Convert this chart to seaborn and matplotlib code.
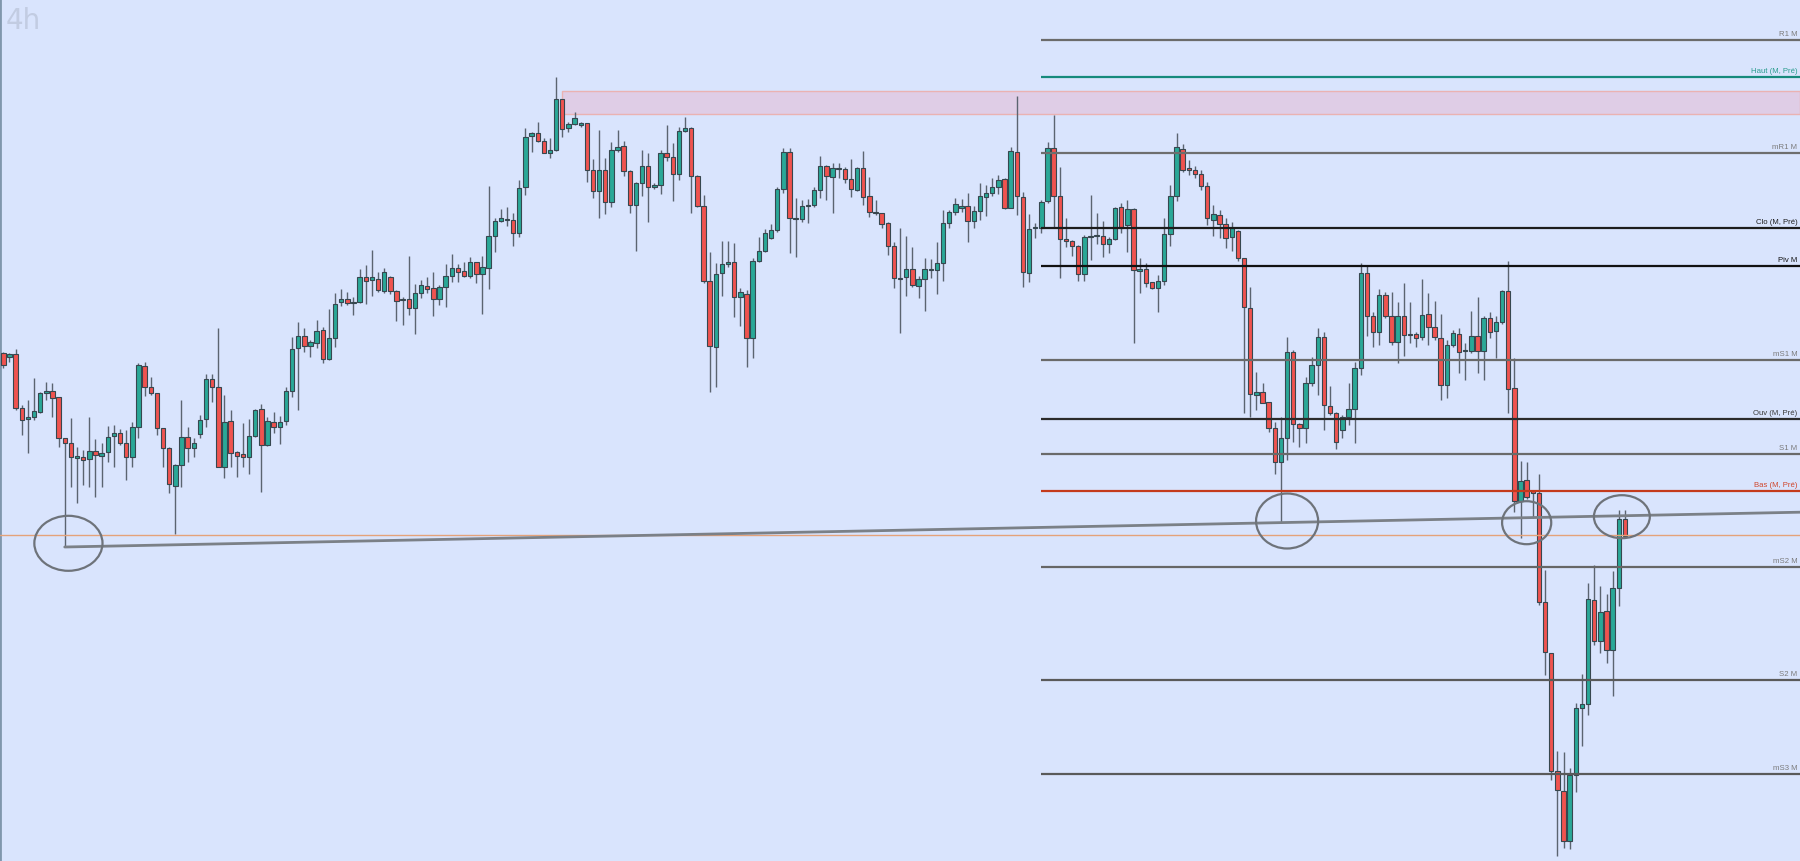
import numpy as np
import pandas as pd
import matplotlib
matplotlib.use("Agg")
import matplotlib.pyplot as plt
from matplotlib.patches import Ellipse, Rectangle
from matplotlib.transforms import blended_transform_factory
import seaborn as sns


# 4h candles, price in chart points
opens = [647, 643, 646, 592, 581, 583, 588, 607, 609, 603,
         562, 557, 542, 543, 541, 549, 544, 548, 564, 567,
         557, 543, 573, 634, 613, 607, 572, 552, 514, 535,
         563, 552, 566, 581, 621, 613, 533, 579, 548, 546,
         543, 564, 591, 555, 578, 573, 579, 609, 652, 664,
         654, 657, 670, 641, 662, 698, 701, 697, 698, 723,
         720, 721, 709, 723, 709, 701, 701, 692, 707, 714,
         712, 701, 713, 724, 732, 729, 724, 738, 726, 732,
         764, 779, 781, 780, 767, 813, 864, 867, 859, 847,
         850, 901, 872, 876, 875, 877, 830, 809, 830, 798,
         850, 854, 829, 795, 817, 834, 813, 815, 847, 843,
         826, 869, 872, 824, 794, 719, 653, 727, 736, 738,
         703, 706, 662, 739, 749, 762, 770, 811, 848, 782,
         781, 795, 795, 810, 834, 823, 832, 831, 821, 810,
         832, 804, 788, 787, 777, 754, 722, 723, 731, 714,
         721, 731, 730, 737, 777, 788, 792, 794, 779, 789,
         803, 807, 813, 821, 792, 848, 803, 727, 772, 772,
         799, 852, 804, 761, 759, 754, 726, 764, 764, 764,
         756, 761, 793, 775, 791, 729, 731, 718, 712, 719,
         766, 804, 851, 832, 830, 826, 814, 780, 785, 776,
         763, 769, 742, 692, 605, 608, 598, 572, 538, 562,
         648, 576, 572, 617, 635, 663, 594, 587, 570, 583,
         591, 632, 727, 684, 668, 705, 684, 658, 684, 666,
         666, 663, 686, 673, 662, 615, 655, 666, 649, 649,
         664, 649, 682, 669, 678, 709, 612, 499, 520, 509,
         507, 398, 347, 229, 209, 159, 225, 292, 296, 400,
         359, 389, 350, 412, 481]
highs = [648, 647, 651, 595, 600, 622, 608, 618, 617, 603,
         562, 582, 553, 550, 583, 561, 557, 574, 575, 571,
         570, 578, 637, 638, 623, 607, 572, 553, 536, 600,
         573, 562, 585, 626, 626, 672, 605, 590, 549, 577,
         581, 591, 596, 583, 588, 584, 613, 663, 678, 672,
         660, 680, 673, 691, 707, 711, 708, 703, 731, 735,
         750, 728, 732, 724, 710, 703, 744, 716, 720, 723,
         728, 715, 736, 746, 736, 738, 743, 738, 744, 814,
         782, 791, 793, 787, 820, 872, 868, 878, 862, 862,
         923, 901, 878, 888, 878, 877, 841, 870, 842, 858,
         870, 859, 830, 818, 850, 847, 817, 850, 875, 857,
         873, 883, 873, 825, 805, 748, 737, 759, 759, 757,
         712, 710, 742, 763, 771, 776, 813, 852, 852, 802,
         800, 801, 813, 844, 835, 837, 837, 833, 841, 833,
         849, 823, 800, 787, 778, 758, 772, 764, 753, 724,
         742, 741, 758, 790, 790, 802, 801, 807, 794, 817,
         815, 822, 825, 822, 853, 904, 808, 786, 777, 800,
         858, 885, 833, 782, 760, 755, 765, 805, 787, 779,
         763, 793, 797, 800, 792, 742, 737, 718, 725, 782,
         815, 867, 856, 840, 834, 830, 818, 795, 790, 782,
         778, 770, 742, 713, 628, 617, 598, 578, 583, 663,
         650, 577, 623, 643, 672, 668, 614, 588, 585, 617,
         638, 737, 735, 688, 711, 708, 708, 698, 717, 698,
         668, 721, 707, 699, 686, 660, 670, 672, 657, 689,
         703, 684, 688, 684, 710, 739, 642, 539, 538, 510,
         526, 430, 347, 249, 248, 232, 297, 326, 417, 435,
         414, 406, 429, 490, 490]
lows = [632, 638, 590, 565, 547, 580, 587, 600, 583, 553,
        453, 513, 497, 515, 513, 503, 513, 538, 533, 555,
        520, 533, 562, 604, 605, 565, 533, 507, 466, 513,
        538, 543, 562, 573, 598, 533, 522, 533, 523, 533,
        526, 563, 508, 554, 567, 556, 575, 603, 590, 648,
        643, 652, 637, 640, 653, 694, 695, 685, 697, 696,
        704, 708, 707, 706, 679, 675, 685, 666, 702, 707,
        684, 695, 693, 718, 718, 723, 722, 717, 686, 711,
        748, 778, 774, 754, 763, 805, 848, 858, 847, 842,
        849, 863, 868, 875, 873, 818, 802, 782, 786, 793,
        848, 824, 787, 749, 804, 778, 811, 806, 839, 799,
        820, 868, 787, 793, 717, 608, 613, 704, 733, 683,
        674, 633, 642, 738, 748, 761, 768, 807, 747, 743,
        778, 777, 793, 802, 800, 787, 822, 817, 803, 809,
        795, 783, 785, 772, 745, 712, 667, 704, 713, 702,
        689, 722, 706, 719, 772, 785, 788, 758, 772, 780,
        784, 804, 806, 791, 792, 785, 713, 718, 762, 767,
        797, 773, 722, 753, 744, 719, 719, 740, 756, 743,
        747, 760, 767, 748, 657, 707, 713, 711, 688, 715,
        754, 799, 828, 825, 822, 810, 775, 764, 762, 752,
        749, 739, 587, 583, 590, 597, 568, 526, 477, 540,
        558, 553, 557, 614, 605, 570, 585, 551, 562, 575,
        557, 625, 664, 653, 655, 682, 655, 637, 644, 657,
        653, 660, 655, 660, 600, 602, 653, 627, 620, 647,
        627, 620, 662, 642, 676, 587, 488, 462, 501, 482,
        395, 325, 220, 144, 152, 151, 208, 254, 285, 355,
        347, 337, 304, 394, 463]
closes = [635, 646, 592, 580, 583, 589, 607, 609, 602, 562,
          557, 543, 544, 540, 549, 545, 547, 563, 567, 557,
          543, 573, 635, 613, 607, 572, 552, 516, 535, 563,
          552, 557, 580, 621, 613, 533, 578, 547, 544, 543,
          564, 590, 555, 579, 573, 578, 609, 651, 664, 654,
          658, 669, 641, 662, 696, 701, 697, 698, 723, 719,
          723, 710, 728, 709, 699, 700, 692, 707, 715, 711,
          701, 713, 724, 732, 728, 724, 738, 726, 733, 764,
          779, 782, 780, 767, 812, 863, 867, 859, 847, 850,
          901, 871, 876, 882, 877, 830, 809, 830, 798, 850,
          853, 829, 795, 817, 834, 813, 815, 847, 843, 826,
          869, 872, 824, 794, 719, 654, 726, 736, 738, 703,
          708, 662, 739, 749, 767, 770, 811, 848, 782, 781,
          794, 794, 810, 834, 824, 832, 831, 821, 811, 832,
          803, 788, 787, 776, 754, 722, 721, 731, 715, 721,
          731, 730, 737, 777, 788, 796, 794, 779, 789, 804,
          807, 813, 820, 792, 849, 804, 728, 771, 772, 798,
          852, 804, 761, 759, 754, 726, 763, 763, 765, 756,
          761, 792, 772, 791, 730, 731, 717, 712, 719, 766,
          804, 853, 830, 830, 826, 814, 782, 786, 776, 762,
          772, 742, 693, 606, 608, 597, 572, 538, 562, 648,
          576, 572, 617, 635, 663, 595, 587, 558, 583, 591,
          632, 727, 684, 668, 705, 684, 658, 684, 665, 665,
          662, 685, 673, 663, 615, 655, 667, 648, 649, 664,
          649, 682, 668, 678, 709, 611, 499, 519, 503, 507,
          398, 348, 229, 210, 159, 225, 292, 296, 401, 359,
          388, 350, 412, 481, 464]

# Monthly pivot levels (right side)
level_names = ["R1 M", "Haut (M, Pré)", "mR1 M", "Clo (M, Pré)", "Piv M", "mS1 M",
               "Ouv (M, Pré)", "S1 M", "Bas (M, Pré)", "mS2 M", "S2 M", "mS3 M"]
level_values = [960, 923, 847, 772, 734, 640, 581, 546, 509, 433, 320, 226]
level_colors = ["#6b6b6b", "#168a7c", "#6e6e6e", "#1c1c1c", "#111111", "#6a6a6a",
                "#2b2b2b", "#6a6a6a", "#c43a1c", "#666666", "#5a5a5a", "#5a5a5a"]
label_colors = ["#7a7a7a", "#2a9d8f", "#7a7a7a", "#1e1e1e", "#111111", "#7a7a7a",
                "#3a3a3a", "#7a7a7a", "#d0452a", "#7a7a7a", "#7a7a7a", "#7a7a7a"]
levels_start = 169

# supply zone, trendline, orange level, circled touches
zone_start, zone_low, zone_high = 91, 886, 909
trend_x = [10, 292.5]
trend_y = [453, 487.8]
orange_level = 465
circle_x = [10.6, 209.0, 248.0, 263.5]
circle_y = [456.7, 479.0, 477.3, 483.3]
circle_w = [11.1, 10.1, 8.0, 9.1]
circle_h = [55, 55, 43, 43]

df = pd.DataFrame({"open": opens, "high": highs, "low": lows, "close": closes})
df["up"] = df["close"] >= df["open"]
df["doji"] = (df["close"] - df["open"]).abs() < 1
df["bottom"] = df[["open", "close"]].min(axis=1)
df["height"] = (df["close"] - df["open"]).abs().clip(lower=1.5)

sns.set_theme(style="white")
bg = "#d9e4fd"
fig = plt.figure(figsize=(18, 8.61), dpi=100, facecolor=bg)
ax = fig.add_axes([0, 0, 1, 1], facecolor=bg)

x_max = 292.5
ax.set_xlim(-0.54, x_max)
ax.set_ylim(139, 1000)

# zone behind candles
ax.add_patch(Rectangle((zone_start, zone_low), x_max - zone_start, zone_high - zone_low,
                       facecolor="#dfcde6", edgecolor="#eab2b2", linewidth=1, zorder=1))

# candles
ax.vlines(df.index, df["low"], df["high"], color="#5b6470", linewidth=1, zorder=2)
body_colors = np.where(df["doji"], "#222222", np.where(df["up"], "#2aa897", "#f0534f"))
ax.bar(df.index, df["height"], bottom=df["bottom"], width=0.72, color=body_colors,
       edgecolor="#37474f", linewidth=0.8, zorder=3)

# pivot lines and labels
trans = blended_transform_factory(ax.transAxes, ax.transData)
for name, val, col, tcol in zip(level_names, level_values, level_colors, label_colors):
    ax.hlines(val, levels_start, x_max, color=col, linewidth=1.6, zorder=4)
    ax.text(0.9985, val + 1.8, name, transform=trans, ha="right", va="bottom",
            fontsize=5.6, color=tcol, family=["Liberation Sans", "DejaVu Sans"], zorder=6)

ax.axhline(orange_level, color="#e4a27a", linewidth=1, zorder=4)
ax.plot(trend_x, trend_y, color="#7b8087", linewidth=2, zorder=5)
for cx, cy, w, h in zip(circle_x, circle_y, circle_w, circle_h):
    ax.add_patch(Ellipse((cx, cy), w, h, fill=False, edgecolor="#6e737a",
                         linewidth=1.6, zorder=5))

ax.text(0.003, 0.992, "4h", transform=ax.transAxes, ha="left", va="top",
        fontsize=20, color="#c2cce2")

ax.set_xticks([])
ax.set_yticks([])
for side in ["top", "right", "bottom"]:
    ax.spines[side].set_visible(False)
ax.spines["left"].set_color("#8097ad")
ax.spines["left"].set_linewidth(2)

fig.savefig("out.png", dpi=100, facecolor=bg)
